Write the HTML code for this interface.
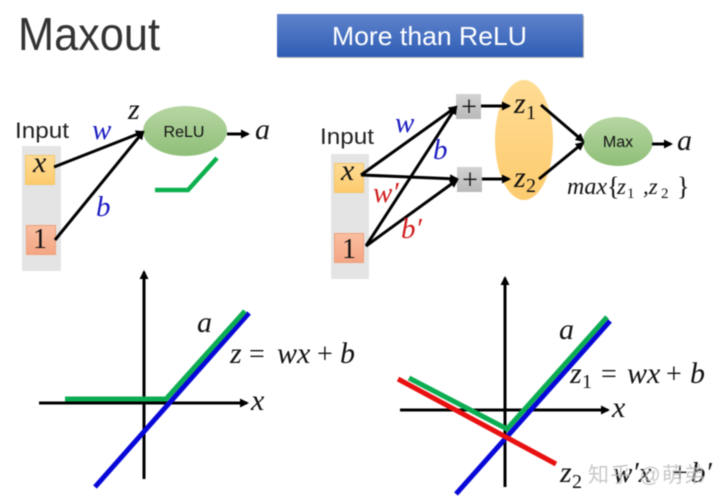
<!DOCTYPE html>
<html><head><meta charset="utf-8"><style>
html,body{margin:0;padding:0;background:#fff;width:720px;height:503px;overflow:hidden}
svg{display:block;filter:blur(.4px)}
.s{font-family:"Liberation Sans",sans-serif;fill:#111}
.m{font-family:"Liberation Serif",serif;font-style:italic;fill:#111}
.r{font-family:"Liberation Serif",serif;fill:#111}
.l{stroke:#000;stroke-width:3;fill:none}
</style></head><body>
<svg width="720" height="503" viewBox="0 0 720 503" xmlns="http://www.w3.org/2000/svg">
<defs>
<marker id="a" markerUnits="userSpaceOnUse" markerWidth="12" markerHeight="12" refX="7" refY="4.500" orient="auto"><path d="M0 0L9 4.500L0 9Z" fill="#000"/></marker>
<linearGradient id="btn" x1="0" y1="0" x2="0" y2="1"><stop offset="0" stop-color="#5f83cc"/><stop offset="1" stop-color="#2f5db5"/></linearGradient>
<linearGradient id="gr" x1="0" y1="0" x2="0" y2="1"><stop offset="0" stop-color="#b7d6a3"/><stop offset="1" stop-color="#8fbf78"/></linearGradient>
<linearGradient id="or" x1="0" y1="0" x2="0" y2="1"><stop offset="0" stop-color="#ffdc94"/><stop offset="1" stop-color="#fdcb6e"/></linearGradient>
<linearGradient id="sa" x1="0" y1="0" x2="0" y2="1"><stop offset="0" stop-color="#f9bfa0"/><stop offset="1" stop-color="#f4a583"/></linearGradient>
<linearGradient id="gy" x1="0" y1="0" x2="0" y2="1"><stop offset="0" stop-color="#d2d2d2"/><stop offset="1" stop-color="#b9b9b9"/></linearGradient>
</defs>

<text class="s" x="18" y="50" font-size="46" textLength="142" lengthAdjust="spacingAndGlyphs" style="fill:#333">Maxout</text>
<rect x="278" y="15.500" width="306" height="42.500" fill="#b5b5b5"/>
<rect x="277" y="14" width="306" height="43" fill="url(#btn)"/>
<text class="s" x="332" y="45" font-size="26" style="fill:#fff" textLength="195" lengthAdjust="spacingAndGlyphs">More than ReLU</text>

<!-- left network -->
<rect x="22" y="146" width="39" height="125" fill="#e4e4e4"/>
<rect x="25.500" y="155.500" width="29" height="29" fill="url(#or)" stroke="#f4c66a"/>
<rect x="26.500" y="225.500" width="29" height="29" fill="url(#sa)" stroke="#eea07c"/>
<text class="s" x="15" y="138" font-size="22" textLength="54" lengthAdjust="spacingAndGlyphs" style="fill:#222">Input</text>
<text class="m" x="33" y="172" font-size="30">x</text>
<text class="r" x="33" y="248" font-size="28">1</text>
<ellipse cx="185" cy="131" rx="42" ry="25" fill="url(#gr)"/>
<text class="s" x="184" y="137" font-size="16" text-anchor="middle">ReLU</text>
<line class="l" x1="54" y1="167" x2="143" y2="132" marker-end="url(#a)"/>
<line class="l" x1="55" y1="240" x2="143" y2="132" marker-end="url(#a)"/>
<line class="l" x1="227" y1="134" x2="248" y2="134" marker-end="url(#a)"/>
<text class="m" x="128" y="119" font-size="30">z</text>
<text class="m" x="92" y="139" font-size="29" style="fill:#1a1ac0">w</text>
<text class="m" x="96" y="216" font-size="29" style="fill:#1a1ac0">b</text>
<text class="m" x="255" y="139" font-size="30">a</text>
<path d="M155 190H188L217 158" fill="none" stroke="#0cb04f" stroke-width="4.500"/>

<!-- right network -->
<rect x="331" y="154" width="38" height="125" fill="#e4e4e4"/>
<rect x="334.500" y="163.500" width="29" height="29" fill="url(#or)" stroke="#f4c66a"/>
<rect x="334.500" y="233.500" width="29" height="29" fill="url(#sa)" stroke="#eea07c"/>
<text class="s" x="320" y="144" font-size="22" textLength="54" lengthAdjust="spacingAndGlyphs" style="fill:#222">Input</text>
<text class="m" x="341" y="180" font-size="30">x</text>
<text class="r" x="342" y="258" font-size="28">1</text>
<ellipse cx="524" cy="140" rx="29" ry="60" fill="url(#or)"/>
<rect x="456" y="94" width="25" height="25" fill="url(#gy)"/>
<rect x="457" y="167" width="25" height="25" fill="url(#gy)"/>
<text class="r" x="469" y="116" font-size="28" text-anchor="middle">+</text>
<text class="r" x="470" y="189" font-size="28" text-anchor="middle">+</text>
<ellipse cx="618" cy="141.500" rx="35" ry="24.500" fill="url(#gr)"/>
<text class="s" x="618" y="147" font-size="16" text-anchor="middle">Max</text>
<line class="l" x1="361" y1="175" x2="456" y2="107" marker-end="url(#a)"/>
<line class="l" x1="361" y1="175" x2="457" y2="179" marker-end="url(#a)"/>
<line class="l" x1="366" y1="246" x2="456" y2="107" marker-end="url(#a)"/>
<line class="l" x1="366" y1="246" x2="457" y2="180" marker-end="url(#a)"/>
<line class="l" x1="481" y1="106" x2="509" y2="106" marker-end="url(#a)"/>
<line class="l" x1="482" y1="179" x2="509" y2="179" marker-end="url(#a)"/>
<line class="l" x1="541" y1="105" x2="583" y2="141" marker-end="url(#a)"/>
<line class="l" x1="539" y1="179" x2="583" y2="143" marker-end="url(#a)"/>
<line class="l" x1="652" y1="144" x2="671" y2="144" marker-end="url(#a)"/>
<text class="m" x="395" y="132" font-size="29" style="fill:#1a1ac0">w</text>
<text class="m" x="433" y="159" font-size="29" style="fill:#1a1ac0">b</text>
<text class="m" x="373" y="202" font-size="29" style="fill:#d01c1c">w′</text>
<text class="m" x="401" y="238" font-size="29" style="fill:#d01c1c">b′</text>
<text class="m" x="514" y="113" font-size="30">z</text>
<text class="r" x="526" y="119" font-size="20">1</text>
<text class="m" x="514" y="187" font-size="30">z</text>
<text class="r" x="526" y="192" font-size="20">2</text>
<text class="m" x="677" y="150" font-size="30">a</text>
<text class="m" x="567" y="194" font-size="24">max</text>
<text class="r" x="607" y="195" font-size="26">{</text>
<text class="m" x="617" y="194" font-size="23">z</text>
<text class="r" x="627" y="198" font-size="15">1</text>
<text class="m" x="643" y="194" font-size="23">,z</text>
<text class="r" x="661" y="198" font-size="15">2</text>
<text class="r" x="677" y="195" font-size="26">}</text>

<!-- left chart -->
<line class="l" x1="144" y1="479" x2="144" y2="272" marker-end="url(#a)"/>
<line class="l" x1="39" y1="403" x2="247" y2="403" marker-end="url(#a)"/>
<line x1="95" y1="487" x2="249" y2="313" stroke="#0707d8" stroke-width="5"/>
<path d="M65 399H166L245 311" fill="none" stroke="#0cad52" stroke-width="5"/>
<text class="m" x="197" y="332" font-size="30">a</text>
<text class="m" x="230" y="363" font-size="30">z</text>
<text class="r" x="249" y="363" font-size="28">=</text>
<text class="m" x="277" y="363" font-size="30">wx</text>
<text class="r" x="317" y="363" font-size="28">+</text>
<text class="m" x="340" y="363" font-size="30">b</text>
<text class="m" x="251" y="410" font-size="30">x</text>

<!-- right chart -->
<line class="l" x1="505" y1="487" x2="505" y2="278" marker-end="url(#a)"/>
<line class="l" x1="400" y1="410" x2="608" y2="410" marker-end="url(#a)"/>
<line x1="456" y1="494" x2="610" y2="321" stroke="#0707d8" stroke-width="5"/>
<path d="M409 378L507 429L607 317" fill="none" stroke="#0cad52" stroke-width="5"/>
<line x1="398" y1="379" x2="556" y2="464" stroke="#e81010" stroke-width="5"/>
<text class="m" x="559" y="339" font-size="30">a</text>
<text class="m" x="570" y="383" font-size="30">z</text>
<text class="r" x="582" y="388" font-size="20">1</text>
<text class="r" x="601" y="383" font-size="28">=</text>
<text class="m" x="627" y="383" font-size="30">wx</text>
<text class="r" x="666" y="383" font-size="28">+</text>
<text class="m" x="690" y="383" font-size="30">b</text>
<text class="m" x="612" y="417" font-size="30">x</text>
<text class="m" x="560" y="482" font-size="30">z</text>
<text class="r" x="572" y="488" font-size="20">2</text>
<text class="m" x="613" y="482" font-size="29">w′x</text>
<text class="r" x="672" y="482" font-size="28">+</text>
<text class="m" x="691" y="482" font-size="29">b′</text>
<text x="588" y="482" font-size="21" fill="#bbb" fill-opacity=".8" textLength="117" style="font-family:'Liberation Sans','Noto Sans CJK SC',sans-serif">知乎 @萌弟</text>
</svg>
</body></html>
